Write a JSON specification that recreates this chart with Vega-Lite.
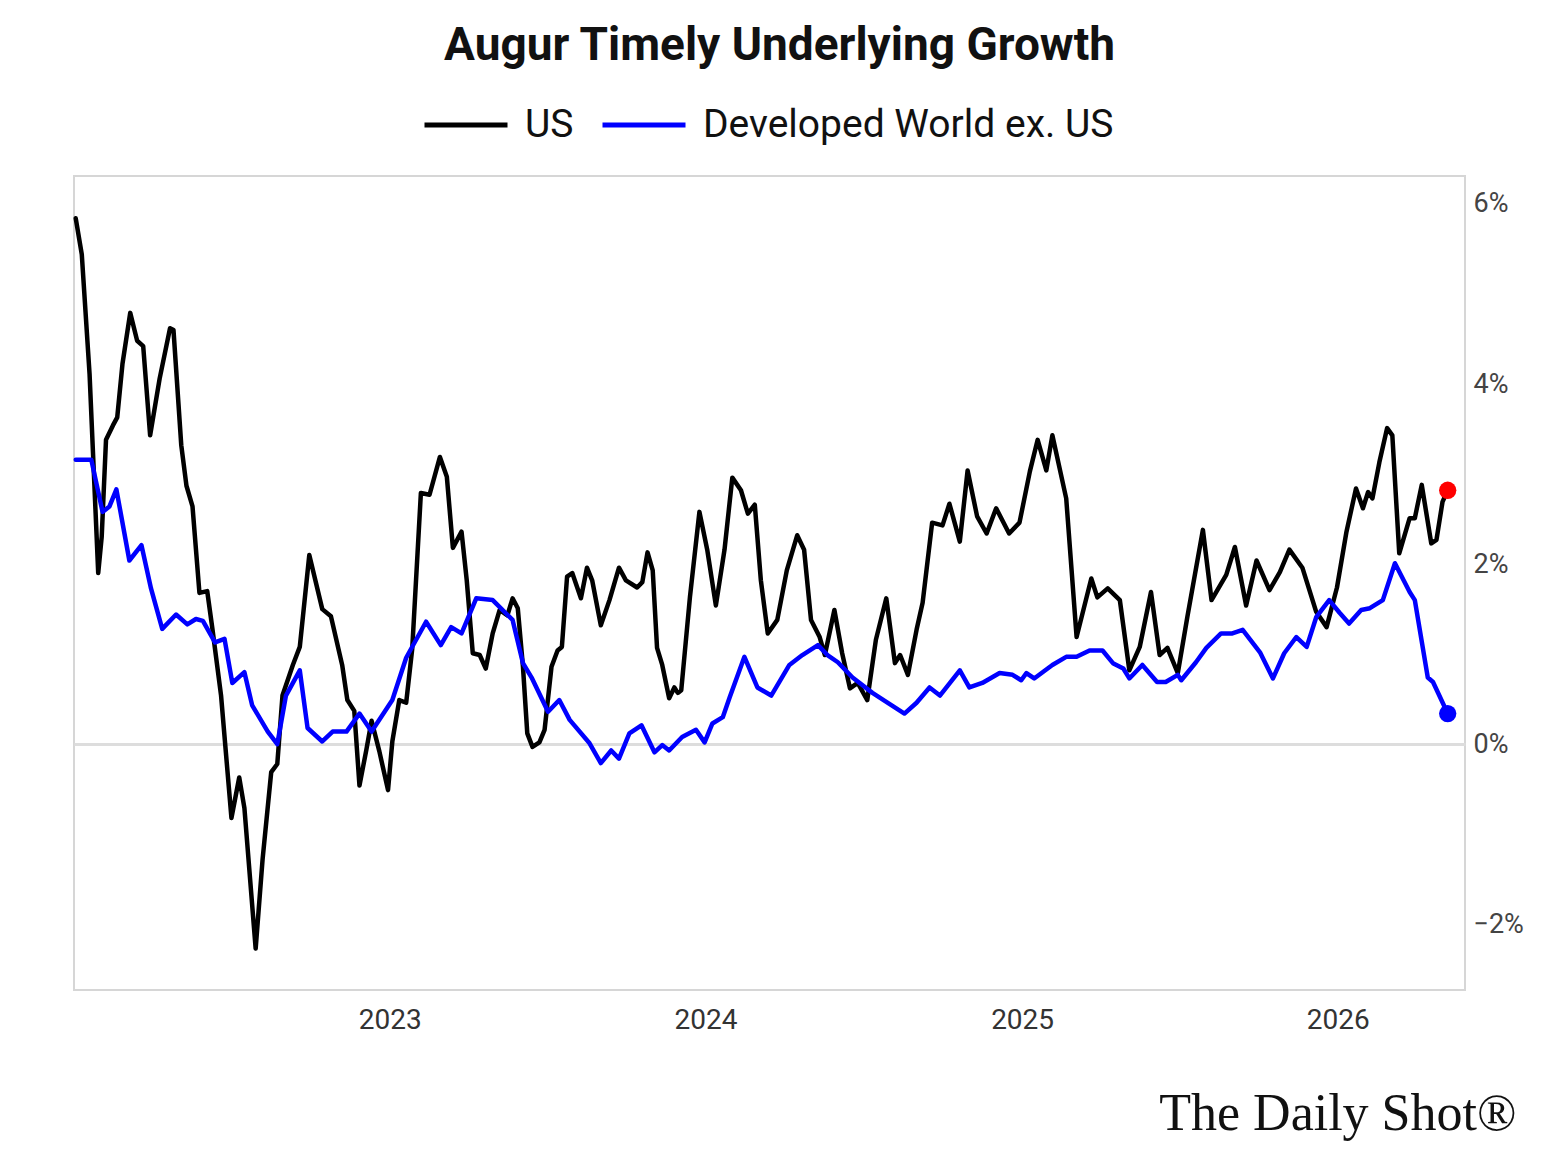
{
  "$schema": "https://vega.github.io/schema/vega-lite/v6.json",
  "width": 1391,
  "height": 814,
  "autosize": {"type": "none"},
  "padding": {"left": 74, "top": 176, "right": 92, "bottom": 177},
  "background": "white",
  "title": {
    "text": "Augur Timely Underlying Growth",
    "font": "Roboto",
    "fontSize": 46,
    "fontWeight": 700,
    "color": "#111111",
    "anchor": "middle",
    "frame": "group",
    "baseline": "alphabetic",
    "dx": 10,
    "offset": -25
  },
  "data": {
    "values": [
      {"date": "2022-01-03", "series": "US", "value": 5.84},
      {"date": "2022-01-10", "series": "US", "value": 5.44},
      {"date": "2022-01-19", "series": "US", "value": 4.11},
      {"date": "2022-01-29", "series": "US", "value": 1.90},
      {"date": "2022-02-02", "series": "US", "value": 2.30},
      {"date": "2022-02-07", "series": "US", "value": 3.38},
      {"date": "2022-02-15", "series": "US", "value": 3.54},
      {"date": "2022-02-20", "series": "US", "value": 3.63},
      {"date": "2022-02-26", "series": "US", "value": 4.22},
      {"date": "2022-03-07", "series": "US", "value": 4.79},
      {"date": "2022-03-15", "series": "US", "value": 4.48},
      {"date": "2022-03-22", "series": "US", "value": 4.42},
      {"date": "2022-03-30", "series": "US", "value": 3.43},
      {"date": "2022-04-10", "series": "US", "value": 4.06},
      {"date": "2022-04-22", "series": "US", "value": 4.62},
      {"date": "2022-04-26", "series": "US", "value": 4.60},
      {"date": "2022-05-05", "series": "US", "value": 3.32},
      {"date": "2022-05-11", "series": "US", "value": 2.87},
      {"date": "2022-05-18", "series": "US", "value": 2.64},
      {"date": "2022-05-26", "series": "US", "value": 1.68},
      {"date": "2022-06-04", "series": "US", "value": 1.70},
      {"date": "2022-06-10", "series": "US", "value": 1.28},
      {"date": "2022-06-20", "series": "US", "value": 0.54},
      {"date": "2022-07-02", "series": "US", "value": -0.82},
      {"date": "2022-07-11", "series": "US", "value": -0.37},
      {"date": "2022-07-17", "series": "US", "value": -0.71},
      {"date": "2022-07-30", "series": "US", "value": -2.27},
      {"date": "2022-08-07", "series": "US", "value": -1.28},
      {"date": "2022-08-17", "series": "US", "value": -0.31},
      {"date": "2022-08-24", "series": "US", "value": -0.22},
      {"date": "2022-08-30", "series": "US", "value": 0.54},
      {"date": "2022-09-11", "series": "US", "value": 0.88},
      {"date": "2022-09-19", "series": "US", "value": 1.08},
      {"date": "2022-09-30", "series": "US", "value": 2.10},
      {"date": "2022-10-15", "series": "US", "value": 1.50},
      {"date": "2022-10-25", "series": "US", "value": 1.42},
      {"date": "2022-11-07", "series": "US", "value": 0.88},
      {"date": "2022-11-13", "series": "US", "value": 0.49},
      {"date": "2022-11-21", "series": "US", "value": 0.37},
      {"date": "2022-11-27", "series": "US", "value": -0.46},
      {"date": "2022-12-05", "series": "US", "value": -0.06},
      {"date": "2022-12-11", "series": "US", "value": 0.26},
      {"date": "2022-12-20", "series": "US", "value": -0.08},
      {"date": "2022-12-30", "series": "US", "value": -0.51},
      {"date": "2023-01-04", "series": "US", "value": 0.03},
      {"date": "2023-01-12", "series": "US", "value": 0.49},
      {"date": "2023-01-20", "series": "US", "value": 0.46},
      {"date": "2023-01-27", "series": "US", "value": 1.06},
      {"date": "2023-02-06", "series": "US", "value": 2.79},
      {"date": "2023-02-16", "series": "US", "value": 2.77},
      {"date": "2023-02-28", "series": "US", "value": 3.19},
      {"date": "2023-03-08", "series": "US", "value": 2.97},
      {"date": "2023-03-15", "series": "US", "value": 2.18},
      {"date": "2023-03-25", "series": "US", "value": 2.36},
      {"date": "2023-03-31", "series": "US", "value": 1.82},
      {"date": "2023-04-07", "series": "US", "value": 1.01},
      {"date": "2023-04-15", "series": "US", "value": 0.99},
      {"date": "2023-04-22", "series": "US", "value": 0.84},
      {"date": "2023-04-30", "series": "US", "value": 1.23},
      {"date": "2023-05-08", "series": "US", "value": 1.49},
      {"date": "2023-05-17", "series": "US", "value": 1.43},
      {"date": "2023-05-23", "series": "US", "value": 1.62},
      {"date": "2023-05-29", "series": "US", "value": 1.51},
      {"date": "2023-06-04", "series": "US", "value": 0.86},
      {"date": "2023-06-09", "series": "US", "value": 0.12},
      {"date": "2023-06-15", "series": "US", "value": -0.03},
      {"date": "2023-06-23", "series": "US", "value": 0.02},
      {"date": "2023-06-29", "series": "US", "value": 0.16},
      {"date": "2023-07-07", "series": "US", "value": 0.86},
      {"date": "2023-07-14", "series": "US", "value": 1.04},
      {"date": "2023-07-19", "series": "US", "value": 1.08},
      {"date": "2023-07-25", "series": "US", "value": 1.86},
      {"date": "2023-07-31", "series": "US", "value": 1.90},
      {"date": "2023-08-10", "series": "US", "value": 1.62},
      {"date": "2023-08-17", "series": "US", "value": 1.96},
      {"date": "2023-08-23", "series": "US", "value": 1.82},
      {"date": "2023-09-02", "series": "US", "value": 1.32},
      {"date": "2023-09-12", "series": "US", "value": 1.60},
      {"date": "2023-09-23", "series": "US", "value": 1.96},
      {"date": "2023-10-01", "series": "US", "value": 1.82},
      {"date": "2023-10-14", "series": "US", "value": 1.74},
      {"date": "2023-10-20", "series": "US", "value": 1.80},
      {"date": "2023-10-26", "series": "US", "value": 2.13},
      {"date": "2023-11-01", "series": "US", "value": 1.93},
      {"date": "2023-11-06", "series": "US", "value": 1.07},
      {"date": "2023-11-12", "series": "US", "value": 0.88},
      {"date": "2023-11-20", "series": "US", "value": 0.51},
      {"date": "2023-11-26", "series": "US", "value": 0.63},
      {"date": "2023-11-30", "series": "US", "value": 0.57},
      {"date": "2023-12-04", "series": "US", "value": 0.60},
      {"date": "2023-12-14", "series": "US", "value": 1.63},
      {"date": "2023-12-25", "series": "US", "value": 2.58},
      {"date": "2024-01-03", "series": "US", "value": 2.16},
      {"date": "2024-01-13", "series": "US", "value": 1.54},
      {"date": "2024-01-23", "series": "US", "value": 2.16},
      {"date": "2024-02-01", "series": "US", "value": 2.96},
      {"date": "2024-02-11", "series": "US", "value": 2.82},
      {"date": "2024-02-19", "series": "US", "value": 2.56},
      {"date": "2024-02-27", "series": "US", "value": 2.66},
      {"date": "2024-03-05", "series": "US", "value": 1.82},
      {"date": "2024-03-13", "series": "US", "value": 1.23},
      {"date": "2024-03-24", "series": "US", "value": 1.38},
      {"date": "2024-04-04", "series": "US", "value": 1.93},
      {"date": "2024-04-16", "series": "US", "value": 2.32},
      {"date": "2024-04-24", "series": "US", "value": 2.16},
      {"date": "2024-05-02", "series": "US", "value": 1.38},
      {"date": "2024-05-12", "series": "US", "value": 1.19},
      {"date": "2024-05-18", "series": "US", "value": 0.99},
      {"date": "2024-05-29", "series": "US", "value": 1.49},
      {"date": "2024-06-07", "series": "US", "value": 1.01},
      {"date": "2024-06-16", "series": "US", "value": 0.62},
      {"date": "2024-06-25", "series": "US", "value": 0.68},
      {"date": "2024-07-06", "series": "US", "value": 0.49},
      {"date": "2024-07-16", "series": "US", "value": 1.16},
      {"date": "2024-07-28", "series": "US", "value": 1.62},
      {"date": "2024-08-07", "series": "US", "value": 0.90},
      {"date": "2024-08-13", "series": "US", "value": 0.99},
      {"date": "2024-08-22", "series": "US", "value": 0.77},
      {"date": "2024-09-01", "series": "US", "value": 1.27},
      {"date": "2024-09-08", "series": "US", "value": 1.57},
      {"date": "2024-09-19", "series": "US", "value": 2.46},
      {"date": "2024-10-01", "series": "US", "value": 2.43},
      {"date": "2024-10-09", "series": "US", "value": 2.67},
      {"date": "2024-10-21", "series": "US", "value": 2.25},
      {"date": "2024-10-30", "series": "US", "value": 3.04},
      {"date": "2024-11-10", "series": "US", "value": 2.53},
      {"date": "2024-11-21", "series": "US", "value": 2.34},
      {"date": "2024-12-02", "series": "US", "value": 2.62},
      {"date": "2024-12-17", "series": "US", "value": 2.34},
      {"date": "2024-12-29", "series": "US", "value": 2.46},
      {"date": "2025-01-10", "series": "US", "value": 3.03},
      {"date": "2025-01-19", "series": "US", "value": 3.38},
      {"date": "2025-01-29", "series": "US", "value": 3.04},
      {"date": "2025-02-05", "series": "US", "value": 3.43},
      {"date": "2025-02-21", "series": "US", "value": 2.73},
      {"date": "2025-03-05", "series": "US", "value": 1.19},
      {"date": "2025-03-22", "series": "US", "value": 1.84},
      {"date": "2025-03-29", "series": "US", "value": 1.63},
      {"date": "2025-04-10", "series": "US", "value": 1.73},
      {"date": "2025-04-24", "series": "US", "value": 1.60},
      {"date": "2025-05-05", "series": "US", "value": 0.82},
      {"date": "2025-05-17", "series": "US", "value": 1.08},
      {"date": "2025-05-30", "series": "US", "value": 1.69},
      {"date": "2025-06-09", "series": "US", "value": 0.99},
      {"date": "2025-06-18", "series": "US", "value": 1.07},
      {"date": "2025-06-30", "series": "US", "value": 0.79},
      {"date": "2025-07-11", "series": "US", "value": 1.41},
      {"date": "2025-07-29", "series": "US", "value": 2.38},
      {"date": "2025-08-08", "series": "US", "value": 1.60},
      {"date": "2025-08-25", "series": "US", "value": 1.88},
      {"date": "2025-09-04", "series": "US", "value": 2.19},
      {"date": "2025-09-17", "series": "US", "value": 1.54},
      {"date": "2025-09-29", "series": "US", "value": 2.04},
      {"date": "2025-10-14", "series": "US", "value": 1.71},
      {"date": "2025-10-26", "series": "US", "value": 1.91},
      {"date": "2025-11-06", "series": "US", "value": 2.16},
      {"date": "2025-11-21", "series": "US", "value": 1.96},
      {"date": "2025-12-07", "series": "US", "value": 1.47},
      {"date": "2025-12-19", "series": "US", "value": 1.30},
      {"date": "2025-12-31", "series": "US", "value": 1.74},
      {"date": "2026-01-11", "series": "US", "value": 2.36},
      {"date": "2026-01-22", "series": "US", "value": 2.84},
      {"date": "2026-01-30", "series": "US", "value": 2.62},
      {"date": "2026-02-05", "series": "US", "value": 2.80},
      {"date": "2026-02-10", "series": "US", "value": 2.73},
      {"date": "2026-02-18", "series": "US", "value": 3.13},
      {"date": "2026-02-27", "series": "US", "value": 3.51},
      {"date": "2026-03-05", "series": "US", "value": 3.43},
      {"date": "2026-03-13", "series": "US", "value": 2.12},
      {"date": "2026-03-25", "series": "US", "value": 2.51},
      {"date": "2026-03-31", "series": "US", "value": 2.51},
      {"date": "2026-04-08", "series": "US", "value": 2.88},
      {"date": "2026-04-19", "series": "US", "value": 2.23},
      {"date": "2026-04-25", "series": "US", "value": 2.27},
      {"date": "2026-05-02", "series": "US", "value": 2.69},
      {"date": "2026-05-08", "series": "US", "value": 2.82},
      {"date": "2022-01-03", "series": "Developed World ex. US", "value": 3.16},
      {"date": "2022-01-21", "series": "Developed World ex. US", "value": 3.16},
      {"date": "2022-02-03", "series": "Developed World ex. US", "value": 2.58},
      {"date": "2022-02-11", "series": "Developed World ex. US", "value": 2.64},
      {"date": "2022-02-19", "series": "Developed World ex. US", "value": 2.83},
      {"date": "2022-03-06", "series": "Developed World ex. US", "value": 2.04},
      {"date": "2022-03-20", "series": "Developed World ex. US", "value": 2.21},
      {"date": "2022-03-31", "series": "Developed World ex. US", "value": 1.73},
      {"date": "2022-04-13", "series": "Developed World ex. US", "value": 1.28},
      {"date": "2022-04-29", "series": "Developed World ex. US", "value": 1.44},
      {"date": "2022-05-12", "series": "Developed World ex. US", "value": 1.33},
      {"date": "2022-05-22", "series": "Developed World ex. US", "value": 1.39},
      {"date": "2022-05-30", "series": "Developed World ex. US", "value": 1.37},
      {"date": "2022-06-13", "series": "Developed World ex. US", "value": 1.13},
      {"date": "2022-06-24", "series": "Developed World ex. US", "value": 1.17},
      {"date": "2022-07-03", "series": "Developed World ex. US", "value": 0.68},
      {"date": "2022-07-17", "series": "Developed World ex. US", "value": 0.80},
      {"date": "2022-07-26", "series": "Developed World ex. US", "value": 0.43},
      {"date": "2022-08-13", "series": "Developed World ex. US", "value": 0.14},
      {"date": "2022-08-24", "series": "Developed World ex. US", "value": 0.00},
      {"date": "2022-09-03", "series": "Developed World ex. US", "value": 0.54},
      {"date": "2022-09-19", "series": "Developed World ex. US", "value": 0.82},
      {"date": "2022-09-28", "series": "Developed World ex. US", "value": 0.18},
      {"date": "2022-10-15", "series": "Developed World ex. US", "value": 0.03},
      {"date": "2022-10-27", "series": "Developed World ex. US", "value": 0.14},
      {"date": "2022-11-12", "series": "Developed World ex. US", "value": 0.14},
      {"date": "2022-11-27", "series": "Developed World ex. US", "value": 0.34},
      {"date": "2022-12-11", "series": "Developed World ex. US", "value": 0.14},
      {"date": "2023-01-04", "series": "Developed World ex. US", "value": 0.49},
      {"date": "2023-01-20", "series": "Developed World ex. US", "value": 0.96},
      {"date": "2023-02-12", "series": "Developed World ex. US", "value": 1.36},
      {"date": "2023-03-01", "series": "Developed World ex. US", "value": 1.10},
      {"date": "2023-03-13", "series": "Developed World ex. US", "value": 1.30},
      {"date": "2023-03-25", "series": "Developed World ex. US", "value": 1.23},
      {"date": "2023-04-11", "series": "Developed World ex. US", "value": 1.62},
      {"date": "2023-04-30", "series": "Developed World ex. US", "value": 1.60},
      {"date": "2023-05-23", "series": "Developed World ex. US", "value": 1.38},
      {"date": "2023-06-04", "series": "Developed World ex. US", "value": 0.90},
      {"date": "2023-06-14", "series": "Developed World ex. US", "value": 0.74},
      {"date": "2023-07-03", "series": "Developed World ex. US", "value": 0.36},
      {"date": "2023-07-16", "series": "Developed World ex. US", "value": 0.49},
      {"date": "2023-07-28", "series": "Developed World ex. US", "value": 0.27},
      {"date": "2023-08-20", "series": "Developed World ex. US", "value": 0.01},
      {"date": "2023-09-02", "series": "Developed World ex. US", "value": -0.21},
      {"date": "2023-09-14", "series": "Developed World ex. US", "value": -0.07},
      {"date": "2023-09-23", "series": "Developed World ex. US", "value": -0.16},
      {"date": "2023-10-05", "series": "Developed World ex. US", "value": 0.12},
      {"date": "2023-10-19", "series": "Developed World ex. US", "value": 0.21},
      {"date": "2023-11-03", "series": "Developed World ex. US", "value": -0.09},
      {"date": "2023-11-12", "series": "Developed World ex. US", "value": -0.01},
      {"date": "2023-11-20", "series": "Developed World ex. US", "value": -0.07},
      {"date": "2023-12-05", "series": "Developed World ex. US", "value": 0.08},
      {"date": "2023-12-21", "series": "Developed World ex. US", "value": 0.16},
      {"date": "2023-12-31", "series": "Developed World ex. US", "value": 0.02},
      {"date": "2024-01-09", "series": "Developed World ex. US", "value": 0.23},
      {"date": "2024-01-21", "series": "Developed World ex. US", "value": 0.30},
      {"date": "2024-01-29", "series": "Developed World ex. US", "value": 0.52},
      {"date": "2024-02-15", "series": "Developed World ex. US", "value": 0.97},
      {"date": "2024-03-01", "series": "Developed World ex. US", "value": 0.63},
      {"date": "2024-03-17", "series": "Developed World ex. US", "value": 0.54},
      {"date": "2024-04-07", "series": "Developed World ex. US", "value": 0.88},
      {"date": "2024-04-22", "series": "Developed World ex. US", "value": 0.99},
      {"date": "2024-05-10", "series": "Developed World ex. US", "value": 1.10},
      {"date": "2024-05-21", "series": "Developed World ex. US", "value": 0.99},
      {"date": "2024-06-02", "series": "Developed World ex. US", "value": 0.91},
      {"date": "2024-06-19", "series": "Developed World ex. US", "value": 0.74},
      {"date": "2024-07-12", "series": "Developed World ex. US", "value": 0.57},
      {"date": "2024-07-28", "series": "Developed World ex. US", "value": 0.47},
      {"date": "2024-08-18", "series": "Developed World ex. US", "value": 0.34},
      {"date": "2024-09-01", "series": "Developed World ex. US", "value": 0.46},
      {"date": "2024-09-16", "series": "Developed World ex. US", "value": 0.63},
      {"date": "2024-09-28", "series": "Developed World ex. US", "value": 0.54},
      {"date": "2024-10-21", "series": "Developed World ex. US", "value": 0.82},
      {"date": "2024-11-01", "series": "Developed World ex. US", "value": 0.63},
      {"date": "2024-11-16", "series": "Developed World ex. US", "value": 0.68},
      {"date": "2024-12-06", "series": "Developed World ex. US", "value": 0.79},
      {"date": "2024-12-21", "series": "Developed World ex. US", "value": 0.77},
      {"date": "2024-12-31", "series": "Developed World ex. US", "value": 0.71},
      {"date": "2025-01-06", "series": "Developed World ex. US", "value": 0.79},
      {"date": "2025-01-15", "series": "Developed World ex. US", "value": 0.73},
      {"date": "2025-02-05", "series": "Developed World ex. US", "value": 0.88},
      {"date": "2025-02-21", "series": "Developed World ex. US", "value": 0.97},
      {"date": "2025-03-05", "series": "Developed World ex. US", "value": 0.97},
      {"date": "2025-03-20", "series": "Developed World ex. US", "value": 1.04},
      {"date": "2025-04-04", "series": "Developed World ex. US", "value": 1.04},
      {"date": "2025-04-16", "series": "Developed World ex. US", "value": 0.90},
      {"date": "2025-04-28", "series": "Developed World ex. US", "value": 0.84},
      {"date": "2025-05-05", "series": "Developed World ex. US", "value": 0.73},
      {"date": "2025-05-20", "series": "Developed World ex. US", "value": 0.88},
      {"date": "2025-06-06", "series": "Developed World ex. US", "value": 0.69},
      {"date": "2025-06-16", "series": "Developed World ex. US", "value": 0.69},
      {"date": "2025-06-30", "series": "Developed World ex. US", "value": 0.77},
      {"date": "2025-07-04", "series": "Developed World ex. US", "value": 0.71},
      {"date": "2025-07-21", "series": "Developed World ex. US", "value": 0.91},
      {"date": "2025-08-02", "series": "Developed World ex. US", "value": 1.07},
      {"date": "2025-08-19", "series": "Developed World ex. US", "value": 1.23},
      {"date": "2025-09-01", "series": "Developed World ex. US", "value": 1.23},
      {"date": "2025-09-13", "series": "Developed World ex. US", "value": 1.27},
      {"date": "2025-10-03", "series": "Developed World ex. US", "value": 1.02},
      {"date": "2025-10-18", "series": "Developed World ex. US", "value": 0.73},
      {"date": "2025-10-31", "series": "Developed World ex. US", "value": 1.01},
      {"date": "2025-11-14", "series": "Developed World ex. US", "value": 1.19},
      {"date": "2025-11-26", "series": "Developed World ex. US", "value": 1.08},
      {"date": "2025-12-07", "series": "Developed World ex. US", "value": 1.41},
      {"date": "2025-12-22", "series": "Developed World ex. US", "value": 1.60},
      {"date": "2026-01-03", "series": "Developed World ex. US", "value": 1.46},
      {"date": "2026-01-14", "series": "Developed World ex. US", "value": 1.34},
      {"date": "2026-01-28", "series": "Developed World ex. US", "value": 1.49},
      {"date": "2026-02-07", "series": "Developed World ex. US", "value": 1.51},
      {"date": "2026-02-22", "series": "Developed World ex. US", "value": 1.60},
      {"date": "2026-03-08", "series": "Developed World ex. US", "value": 2.01},
      {"date": "2026-03-25", "series": "Developed World ex. US", "value": 1.69},
      {"date": "2026-03-31", "series": "Developed World ex. US", "value": 1.60},
      {"date": "2026-04-15", "series": "Developed World ex. US", "value": 0.74},
      {"date": "2026-04-21", "series": "Developed World ex. US", "value": 0.69},
      {"date": "2026-05-08", "series": "Developed World ex. US", "value": 0.34}
    ]
  },
  "layer": [
    {
      "mark": {"type": "line", "strokeWidth": 4.5, "strokeJoin": "round", "strokeCap": "round"},
      "encoding": {
        "x": {
          "field": "date",
          "type": "temporal",
          "scale": {"domain": [{"year": 2022, "month": 1, "date": 1}, {"year": 2026, "month": 5, "date": 28}]},
          "axis": {
            "values": [{"year": 2023, "month": 1, "date": 1}, {"year": 2024, "month": 1, "date": 1}, {"year": 2025, "month": 1, "date": 1}, {"year": 2026, "month": 1, "date": 1}],
            "format": "%Y",
            "domain": false,
            "ticks": false,
            "grid": false,
            "labelFont": "Roboto",
            "labelFontSize": 28,
            "labelColor": "#333333",
            "labelPadding": 16,
            "title": "The Daily Shot®",
            "titleFont": "Liberation Serif",
            "titleFontSize": 52,
            "titleFontWeight": "normal",
            "titleColor": "#111111",
            "titleAnchor": "end",
            "titleAlign": "right",
            "titleBaseline": "alphabetic",
            "titleX": 1442,
            "titleY": 139
          }
        },
        "y": {
          "field": "value",
          "type": "quantitative",
          "scale": {"domain": [-2.73, 6.31], "nice": false, "zero": false},
          "axis": {
            "orient": "right",
            "values": [-2, 0, 2, 4, 6],
            "labelExpr": "format(datum.value, 'd') + '%'",
            "domain": false,
            "ticks": false,
            "grid": true,
            "gridColor": {"condition": {"test": "datum.value === 0", "value": "#dddddd"}, "value": "transparent"},
            "gridWidth": 3,
            "labelFont": "Roboto",
            "labelFontSize": 27,
            "labelColor": "#444444",
            "labelPadding": 8,
            "title": null
          }
        },
        "color": {
          "field": "series",
          "type": "nominal",
          "scale": {"domain": ["US", "Developed World ex. US"], "range": ["#000000", "#0000ff"]},
          "legend": {
            "orient": "none",
            "legendX": 348,
            "legendY": -95,
            "direction": "horizontal",
            "title": null,
            "symbolType": "stroke",
            "symbolSize": 6889,
            "symbolStrokeWidth": 5,
            "labelFont": "Roboto",
            "labelFontSize": 39,
            "labelColor": "#111111",
            "labelOffset": 15,
            "labelLimit": 0,
            "columnPadding": 18,
            "padding": 0
          }
        }
      }
    },
    {
      "transform": [
        {"joinaggregate": [{"op": "max", "field": "date", "as": "maxdate"}], "groupby": ["series"]},
        {"filter": "time(datum.date) === time(datum.maxdate)"}
      ],
      "mark": {"type": "circle", "size": 300, "opacity": 1},
      "encoding": {
        "x": {"field": "date", "type": "temporal"},
        "y": {"field": "value", "type": "quantitative"},
        "color": {"condition": {"test": "datum.series === 'US'", "value": "#ff0000"}, "value": "#0000ff"}
      }
    }
  ],
  "config": {
    "view": {"stroke": "#d6d6d6", "strokeWidth": 2}
  }
}
